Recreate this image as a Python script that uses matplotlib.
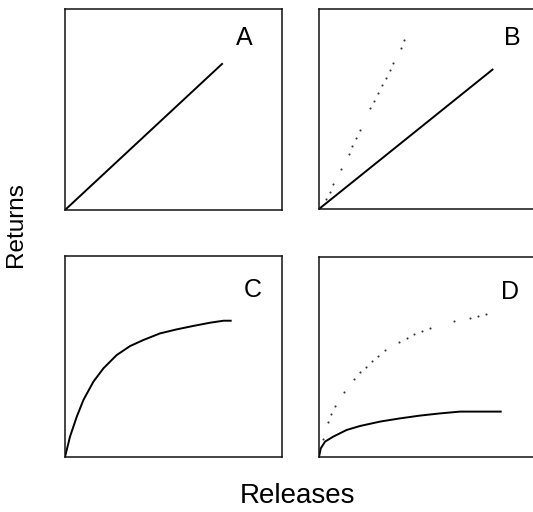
import matplotlib
matplotlib.use("Agg")
import matplotlib.pyplot as plt

plt.rcParams['font.family'] = ['Liberation Sans', 'DejaVu Sans']

# Panel A: linear
a_x = [0.0, 0.727]
a_y = [0.0, 0.73]

# Panel B: solid linear + dotted steeper
b_solid_x = [0.0, 0.803]
b_solid_y = [0.0, 0.70]
b_dot_x = [0.032, 0.051, 0.066, 0.100, 0.138, 0.154, 0.171, 0.187, 0.237, 0.253,
           0.272, 0.290, 0.309, 0.326, 0.343, 0.376, 0.393]
b_dot_y = [0.050, 0.087, 0.127, 0.202, 0.277, 0.315, 0.355, 0.393, 0.503, 0.542,
           0.578, 0.618, 0.655, 0.693, 0.732, 0.807, 0.845]

# Panel C: saturating curve
c_x = [0.0, 0.023, 0.054, 0.085, 0.131, 0.177, 0.238, 0.300, 0.361, 0.438,
       0.515, 0.591, 0.668, 0.730, 0.768]
c_y = [0.0, 0.101, 0.200, 0.284, 0.375, 0.441, 0.507, 0.552, 0.582, 0.615,
       0.635, 0.652, 0.668, 0.678, 0.678]

# Panel D: solid low curve + dotted higher curve
d_solid_x = [0.0, 0.008, 0.028, 0.066, 0.127, 0.189, 0.281, 0.373, 0.465, 0.558,
             0.650, 0.742, 0.842]
d_solid_y = [0.0, 0.043, 0.077, 0.102, 0.135, 0.155, 0.177, 0.193, 0.207, 0.218,
             0.227, 0.227, 0.227]
d_dot_x = [0.017, 0.043, 0.057, 0.075, 0.117, 0.160, 0.187, 0.215, 0.244, 0.273,
           0.304, 0.369, 0.404, 0.439, 0.475, 0.512, 0.622, 0.697, 0.734, 0.771]
d_dot_y = [0.092, 0.175, 0.215, 0.253, 0.323, 0.392, 0.423, 0.452, 0.478, 0.507,
           0.533, 0.575, 0.593, 0.613, 0.630, 0.643, 0.678, 0.697, 0.707, 0.713]

panel_labels = ["A", "B", "C", "D"]
x_label = "Releases"
y_label = "Returns"

W, H = 533, 512
fig = plt.figure(figsize=(W / 100, H / 100), dpi=100)


def add_ax(left, top, width, height):
    return fig.add_axes([left / W, 1 - (top + height) / H, width / W, height / H])


axA = add_ax(65, 9, 217, 201)
axB = add_ax(319, 9, 217, 200)
axC = add_ax(65, 256, 217, 201)
axD = add_ax(319, 257, 217, 200)
axes = [axA, axB, axC, axD]

for ax in axes:
    ax.set_xlim(0, 1)
    ax.set_ylim(0, 1)
    ax.set_xticks([])
    ax.set_yticks([])
    for s in ax.spines.values():
        s.set_linewidth(1.1)
        s.set_color('#111111')

lw = 1.4
axA.plot(a_x, a_y, color='black', lw=lw, solid_capstyle='butt')
axB.plot(b_solid_x, b_solid_y, color='black', lw=lw, solid_capstyle='butt')
axB.plot(b_dot_x, b_dot_y, linestyle='none', marker='o', ms=1.5, color='#333333', mec='none')
axC.plot(c_x, c_y, color='black', lw=lw, solid_capstyle='butt')
axD.plot(d_solid_x, d_solid_y, color='black', lw=lw, solid_capstyle='butt')
axD.plot(d_dot_x, d_dot_y, linestyle='none', marker='o', ms=1.5, color='#333333', mec='none')

label_pos = [(244, 38), (512, 38), (253, 290), (510, 292)]
for lab, (px, py) in zip(panel_labels, label_pos):
    fig.text(px / W, 1 - py / H, lab, ha='center', va='center', fontsize=18, color='black')

fig.text(297 / W, 1 - 496 / H, x_label, ha='center', va='center', fontsize=20, color='black')
fig.text(16 / W, 1 - 225 / H, y_label, ha='center', va='center', rotation=90, fontsize=17.5, color='black')

fig.savefig("out.png", dpi=100)
